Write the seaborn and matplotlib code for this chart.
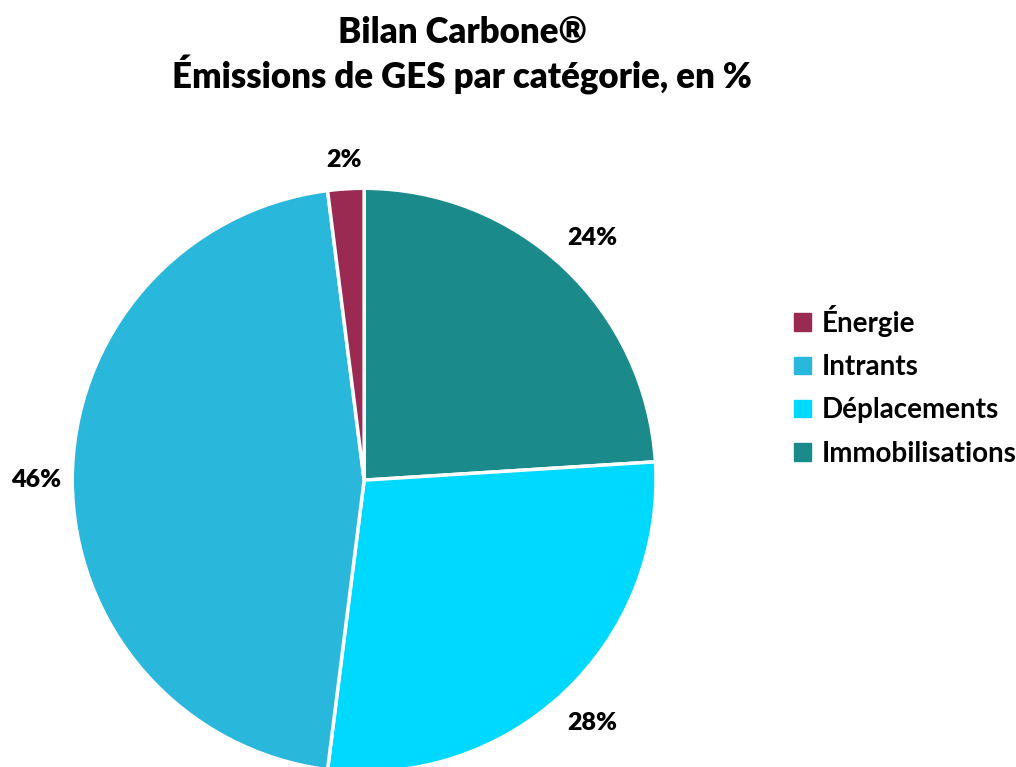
import matplotlib
matplotlib.use("Agg")
import matplotlib.pyplot as plt
import seaborn as sns
import numpy as np

categories = ["Immobilisations", "Déplacements", "Intrants", "Énergie"]
values = [24, 28, 46, 2]
legend_order = ["Énergie", "Intrants", "Déplacements", "Immobilisations"]
colors = {"Énergie": "#9B2A52", "Intrants": "#29B7DC",
          "Déplacements": "#00D9FF", "Immobilisations": "#1A8B8A"}

sns.set_theme(style="white")
plt.rcParams['font.family'] = ['Lato', 'DejaVu Sans']
plt.rcParams['text.color'] = 'black'

fig = plt.figure(figsize=(10.16, 7.67), dpi=100)
ax = fig.add_axes([0.0709, -0.0065, 0.575, 0.761])
wedges, texts = ax.pie(values, colors=[colors[c] for c in categories],
                       startangle=90, counterclock=False,
                       wedgeprops=dict(edgecolor="white", linewidth=2.5))
ax.set_xlim(-1, 1)
ax.set_ylim(-1, 1)
ax.set_aspect("equal")
ax.axis("off")

dists = [1.14, 1.14, 1.125, 1.10]
for w, v, d in zip(wedges, values, dists):
    ang = np.deg2rad((w.theta1 + w.theta2) / 2)
    ax.text(d * np.cos(ang), d * np.sin(ang), f"{v}%", ha="center", va="center",
            fontsize=18, fontweight="heavy", color="black", clip_on=False)

fig.text(0.455, 0.958, "Bilan Carbone®", ha="center", va="center",
         fontsize=25, fontweight="heavy", color="black")
fig.text(0.455, 0.902, "Émissions de GES par catégorie, en %", ha="center",
         va="center", fontsize=25, fontweight="heavy", color="black")

handles = [plt.Rectangle((0, 0), 1, 1, color=colors[c]) for c in legend_order]
leg = fig.legend(handles, legend_order, loc="center left",
                 bbox_to_anchor=(0.757, 0.497), frameon=False,
                 prop=dict(size=20, weight="bold"),
                 handlelength=0.6, handleheight=0.6, handletextpad=0.4,
                 labelspacing=0.62, labelcolor="black")

fig.savefig("out.png", dpi=100)
